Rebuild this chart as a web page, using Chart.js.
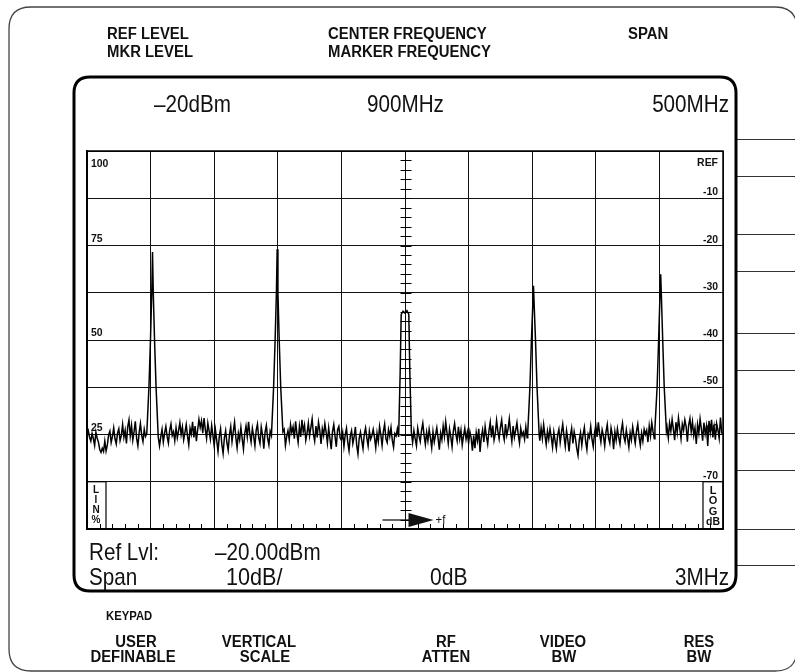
<!DOCTYPE html>
<html>
<head>
<meta charset="utf-8">
<title>Spectrum analyzer display</title>
<script src="https://cdn.jsdelivr.net/npm/chart.js"></script>
<style>
  html, body { margin: 0; padding: 0; background: #fff; }
  canvas { display: block; }
</style>
</head>
<body>
<canvas id="screen" width="795" height="672"></canvas>
<script>
// frequency axis: 650..1150 MHz, 50 MHz / div
const freqMinMHz = 650;
const freqMaxMHz = 1150;
const freqDivMHz = 50;
const freqStartMHz = 650;
const freqStepMHz = 1;

// level axis: REF (0) down to -80 dB, 10 dB / div
const dbMin = -80;
const dbMax = 0;
const dbTickValues = [0, -10, -20, -30, -40, -50, -60, -70];
const dbTickLabels = ['REF', '-10', '-20', '-30', '-40', '-50', '-60', '-70'];
const linTickValues = [100, 75, 50, 25];
const linTickLabels = ['100', '75', '50', '25'];

// noise floor, one value per MHz (650..1150)
const noiseDb = [
  -60.0, -59.2, -60.6, -61.4, -59.8, -60.9, -62.3, -59.5, -60.8, -61.6, -63.2, -63.8, -62.9, -63.6, -61.4, -63.5, -62.2, -60.1, -59.3, -61.7, -60.4, -58.6, -60.9, -62.0, -59.7,
  -58.8, -61.3, -60.2, -57.9, -60.6, -59.1, -61.9, -58.4, -56.9, -60.3, -58.1, -61.2, -59.4, -57.2, -60.8, -62.4, -59.6, -57.7, -60.2, -61.5, -58.9, -60.4, -62.1, -59.0, -60.6,
  -60.3, -59.5, -61.0, -60.2, -59.8, -61.2, -62.7, -62.4, -60.5, -58.9, -61.6, -59.7, -58.3, -60.4, -61.8, -59.1, -57.8, -60.2, -59.4, -61.3, -58.6, -60.7, -59.2, -57.5, -60.0,
  -58.4, -61.1, -59.6, -57.9, -60.3, -62.2, -58.7, -59.9, -57.3, -60.6, -58.2, -61.4, -59.0, -56.8, -58.5, -57.1, -59.7, -56.5, -58.9, -60.8, -57.6, -59.3, -61.0, -58.1, -60.2,
  -62.4, -59.1, -61.3, -63.6, -60.4, -58.8, -62.1, -64.0, -60.7, -59.2, -61.8, -63.3, -60.0, -58.3, -61.5, -59.4, -57.4, -60.6, -62.8, -59.7, -61.1, -58.5, -60.9, -63.1, -59.8,
  -58.2, -60.5, -57.3, -59.9, -61.6, -58.7, -60.3, -62.4, -59.1, -57.8, -60.7, -61.9, -58.4, -60.1, -63.0, -59.5, -58.1, -60.8, -62.2, -59.3, -60.0, -58.6, -61.4, -60.2, -59.7,
  -60.1, -59.3, -60.7, -61.5, -60.0, -58.9, -62.3, -60.4, -59.2, -61.1, -57.9, -59.6, -58.4, -60.9, -57.2, -59.8, -61.7, -58.3, -60.5, -56.9, -59.4, -58.0, -61.2, -59.7, -57.6,
  -60.3, -58.5, -56.7, -59.9, -61.4, -58.2, -60.6, -57.4, -59.1, -62.0, -58.8, -60.2, -57.7, -59.5, -61.8, -58.6, -60.9, -63.1, -59.4, -57.9, -60.4, -62.6, -59.0, -58.3, -60.7,
  -61.2, -59.6, -62.5, -60.1, -58.7, -61.6, -63.4, -60.3, -59.2, -61.9, -60.5, -58.4, -62.2, -64.1, -60.8, -59.5, -61.3, -63.0, -59.9, -58.6, -60.7, -62.4, -59.3, -61.0, -60.2,
  -58.9, -60.6, -62.8, -59.7, -61.5, -58.3, -60.1, -62.3, -59.4, -57.8, -60.9, -61.7, -59.0, -60.4, -58.5, -61.2, -62.7, -59.8, -60.3, -58.8, -61.4, -60.0, -59.3, -60.8, -60.1,
  -60.0, -59.6, -60.4, -61.0, -59.8, -60.6, -61.7, -59.2, -60.9, -62.4, -58.7, -60.3, -61.5, -59.1, -57.6, -60.2, -62.1, -59.5, -61.3, -58.9, -60.7, -62.8, -59.4, -61.6, -60.1,
  -58.6, -60.8, -63.2, -59.7, -61.1, -58.2, -60.4, -57.3, -59.6, -61.9, -58.8, -60.5, -62.6, -59.3, -57.7, -60.0, -61.4, -58.4, -60.9, -59.1, -62.2, -60.3, -58.7, -61.0, -59.5,
  -61.8, -59.4, -60.7, -63.4, -60.2, -62.9, -59.6, -61.3, -58.8, -63.7, -60.5, -59.0, -61.6, -58.3, -60.4, -62.0, -59.2, -57.4, -60.6, -58.1, -61.2, -59.8, -57.0, -59.3, -60.9,
  -58.5, -56.9, -59.7, -61.1, -57.8, -60.2, -58.9, -56.7, -59.4, -61.5, -58.2, -60.6, -59.1, -57.5, -60.0, -61.8, -58.7, -60.3, -59.5, -61.0, -58.4, -60.7, -59.9, -60.4, -59.6,
  -60.2, -59.8, -60.5, -60.1, -59.7, -60.9, -61.3, -58.6, -60.8, -57.9, -60.2, -62.1, -59.3, -61.0, -58.8, -60.6, -62.7, -59.5, -61.4, -63.0, -60.1, -58.9, -61.7, -59.6, -57.8,
  -60.4, -62.5, -59.2, -61.1, -63.6, -60.3, -58.7, -61.9, -59.4, -60.8, -62.9, -64.4, -61.2, -59.6, -62.3, -60.0, -58.5, -61.4, -63.2, -59.9, -60.6, -58.3, -61.0, -62.6, -59.7,
  -58.1, -60.5, -57.4, -59.8, -61.6, -59.0, -60.3, -62.4, -59.5, -57.9, -60.7, -61.8, -58.6, -60.1, -63.1, -59.4, -61.2, -58.8, -60.6, -62.0, -59.2, -57.6, -60.4, -61.5, -59.0,
  -60.8, -62.7, -59.6, -61.1, -58.4, -60.2, -61.9, -59.3, -57.8, -60.5, -62.3, -59.7, -61.4, -58.9, -60.0, -59.1, -61.6, -58.2, -60.3, -57.5, -59.4, -60.9, -58.6, -59.8, -60.4,
  -60.0, -59.5, -60.6, -59.9, -60.3, -59.2, -58.4, -60.7, -57.6, -59.3, -56.8, -58.9, -61.2, -57.4, -59.6, -56.5, -58.7, -60.9, -57.8, -59.1, -56.9, -58.3, -61.5, -58.0, -56.6,
  -59.4, -57.3, -60.2, -58.6, -62.0, -57.9, -59.7, -56.7, -58.8, -61.3, -57.5, -59.9, -58.2, -62.4, -57.1, -59.5, -56.9, -60.6, -58.4, -61.1, -57.7, -59.0, -60.8, -56.4, -59.6,
  -60.1
];

// the five carriers, [MHz, dB]
const peak700 = [[697, -59.8], [698.7, -50], [699.9, -40], [700.9, -30], [701.5, -21.4], [702.1, -30], [703.1, -40], [704.3, -50], [706, -60.5]];
const peak800 = [[795, -60.2], [796.7, -50], [797.9, -40], [798.9, -30], [799.5, -20.8], [800.1, -30], [801.1, -40], [802.3, -50], [804, -59.4]];
const peak900 = [[895, -60.5], [896.2, -47], [897, -34.6], [898.5, -33.9], [900, -34.3], [901.5, -33.8], [903, -34.6], [903.8, -47], [905, -59.5]];
const peak1000 = [[996.5, -59.6], [998.2, -50], [999.4, -40], [1000.4, -33], [1001, -28.5], [1001.6, -33], [1002.6, -40], [1003.8, -50], [1005.5, -60.2]];
const peak1100 = [[1096.5, -58.6], [1098.2, -50], [1099.4, -40], [1100.4, -31], [1101, -26.1], [1101.6, -31], [1102.6, -40], [1103.8, -50], [1105.5, -59.2]];

const peaks = [peak700, peak800, peak900, peak1000, peak1100];

// merge noise and carriers into one sweep
const trace = [];
noiseDb.forEach((v, i) => {
  const f = freqStartMHz + i * freqStepMHz;
  const inPeak = peaks.some(p => f >= p[0][0] && f <= p[p.length - 1][0]);
  if (!inPeak) trace.push({ x: f, y: v });
});
peaks.forEach(p => p.forEach(([x, y]) => trace.push({ x, y })));
trace.sort((a, b) => a.x - b.x);

const FONT = '"Liberation Sans", Arial, sans-serif';

// panel lettering is a condensed face, so squeeze the text horizontally
function drawText(ctx, s, x, y, size, weight, sx, align) {
  ctx.font = `${weight} ${size}px ${FONT}`;
  const w = ctx.measureText(s).width * sx;
  let left = x;
  if (align === 'center') left = x - w / 2;
  if (align === 'right') left = x - w;
  ctx.save();
  ctx.translate(left, y);
  ctx.scale(sx, 1);
  ctx.textAlign = 'left';
  ctx.textBaseline = 'alphabetic';
  ctx.fillText(s, 0, 0);
  ctx.restore();
}

function roundRect(ctx, x0, y0, x1, y1, r) {
  ctx.beginPath();
  ctx.moveTo(x0 + r, y0);
  ctx.lineTo(x1 - r, y0);
  ctx.quadraticCurveTo(x1, y0, x1, y0 + r);
  ctx.lineTo(x1, y1 - r);
  ctx.quadraticCurveTo(x1, y1, x1 - r, y1);
  ctx.lineTo(x0 + r, y1);
  ctx.quadraticCurveTo(x0, y1, x0, y1 - r);
  ctx.lineTo(x0, y0 + r);
  ctx.quadraticCurveTo(x0, y0, x0 + r, y0);
  ctx.closePath();
}

const panelPlugin = {
  id: 'panel',
  beforeDraw(chart) {
    const ctx = chart.ctx;
    ctx.save();
    ctx.fillStyle = '#fff';
    ctx.fillRect(0, 0, chart.width, chart.height);

    // instrument outline
    ctx.strokeStyle = '#444';
    ctx.lineWidth = 1.3;
    roundRect(ctx, 9, 7, 797, 671, 22);
    ctx.stroke();

    // softkey lines on the right
    ctx.strokeStyle = '#333';
    ctx.lineWidth = 1;
    [139, 176, 234, 271, 333, 370, 433, 470, 529, 565].forEach(y => {
      ctx.beginPath();
      ctx.moveTo(737, y + 0.5);
      ctx.lineTo(795, y + 0.5);
      ctx.stroke();
    });

    // screen bezel
    ctx.strokeStyle = '#000';
    ctx.lineWidth = 3;
    roundRect(ctx, 74, 77, 736, 591, 16);
    ctx.stroke();

    ctx.fillStyle = '#111';
    // legends above the screen
    drawText(ctx, 'REF LEVEL', 107, 39, 16, 'bold', 0.93);
    drawText(ctx, 'MKR LEVEL', 107, 57, 16, 'bold', 0.93);
    drawText(ctx, 'CENTER FREQUENCY', 328, 39, 16, 'bold', 0.93);
    drawText(ctx, 'MARKER FREQUENCY', 328, 57, 16, 'bold', 0.93);
    drawText(ctx, 'SPAN', 628, 39, 16, 'bold', 0.93);

    // readouts on the screen
    drawText(ctx, '\u201320dBm', 154, 112, 24, 'normal', 0.86);
    drawText(ctx, '900MHz', 367, 112, 24, 'normal', 0.86);
    drawText(ctx, '500MHz', 729, 112, 24, 'normal', 0.86, 'right');
    drawText(ctx, 'Ref Lvl:', 89, 560, 24, 'normal', 0.86);
    drawText(ctx, '\u201320.00dBm', 215, 560, 24, 'normal', 0.86);
    drawText(ctx, 'Span', 89, 585, 24, 'normal', 0.86);
    drawText(ctx, '10dB/', 226, 585, 24, 'normal', 0.9);
    drawText(ctx, '0dB', 430, 585, 24, 'normal', 0.88);
    drawText(ctx, '3MHz', 729, 585, 24, 'normal', 0.86, 'right');

    // keys below the screen
    drawText(ctx, 'KEYPAD', 106, 620, 12, 'bold', 0.94);
    drawText(ctx, 'USER', 136, 647, 16, 'bold', 0.93, 'center');
    drawText(ctx, 'DEFINABLE', 133, 662, 16, 'bold', 0.93, 'center');
    drawText(ctx, 'VERTICAL', 259, 647, 16, 'bold', 0.93, 'center');
    drawText(ctx, 'SCALE', 265, 662, 16, 'bold', 0.93, 'center');
    drawText(ctx, 'RF', 446, 647, 16, 'bold', 0.93, 'center');
    drawText(ctx, 'ATTEN', 446, 662, 16, 'bold', 0.93, 'center');
    drawText(ctx, 'VIDEO', 563, 647, 16, 'bold', 0.93, 'center');
    drawText(ctx, 'BW', 564, 662, 16, 'bold', 0.93, 'center');
    drawText(ctx, 'RES', 699, 647, 16, 'bold', 0.93, 'center');
    drawText(ctx, 'BW', 699, 662, 16, 'bold', 0.93, 'center');
    ctx.restore();
  },
  beforeDatasetsDraw(chart) {
    const ctx = chart.ctx;
    const a = chart.chartArea;
    const xs = chart.scales.x;
    const ys = chart.scales.y;
    const yl = chart.scales.yLin;
    ctx.save();
    ctx.strokeStyle = '#000';

    // frame of the graticule
    ctx.lineWidth = 1.5;
    ctx.strokeRect(a.left, a.top, a.right - a.left, a.bottom - a.top);

    // minor ticks along the bottom edge
    ctx.lineWidth = 1;
    for (let f = freqMinMHz + 10; f < freqMaxMHz; f += 10) {
      if ((f - freqMinMHz) % freqDivMHz === 0) continue;
      const px = Math.round(xs.getPixelForValue(f)) + 0.5;
      ctx.beginPath();
      ctx.moveTo(px, a.bottom);
      ctx.lineTo(px, a.bottom - 5);
      ctx.stroke();
    }
    // minor ticks on the centre line
    const cx = Math.round(xs.getPixelForValue((freqMinMHz + freqMaxMHz) / 2)) + 0.5;
    for (let d = dbMax - 2; d > dbMin; d -= 2) {
      const py = Math.round(ys.getPixelForValue(d)) + 0.5;
      ctx.beginPath();
      ctx.moveTo(cx - 5, py);
      ctx.lineTo(cx + 6, py);
      ctx.stroke();
    }

    // level labels
    ctx.fillStyle = '#111';
    linTickValues.forEach((v, i) => {
      const py = yl.getPixelForValue(v);
      const by = i === 0 ? py + 16 : py - 4;
      drawText(ctx, linTickLabels[i], a.left + 4, by, 11, 'bold', 0.95);
    });
    dbTickValues.forEach((v, i) => {
      const py = ys.getPixelForValue(v);
      const by = i === 0 ? py + 15 : py - 3;
      drawText(ctx, dbTickLabels[i], a.right - 5, by, 11, 'bold', 0.95, 'right');
    });

    // LIN % and LOG dB boxes
    const boxTop = ys.getPixelForValue(-70);
    ctx.lineWidth = 1.2;
    ctx.strokeRect(a.left, boxTop, 19, a.bottom - boxTop);
    ctx.strokeRect(a.right - 20, boxTop, 20, a.bottom - boxTop);
    ['L', 'I', 'N', '%'].forEach((c, i) => drawText(ctx, c, a.left + 9, boxTop + 11 + i * 10, 10, 'bold', 1, 'center'));
    ['L', 'O', 'G'].forEach((c, i) => drawText(ctx, c, a.right - 10, boxTop + 12 + i * 10.5, 11, 'bold', 1, 'center'));
    drawText(ctx, 'dB', a.right - 10, boxTop + 43, 11, 'bold', 0.95, 'center');

    // +f marker
    const my = a.bottom - 9;
    ctx.lineWidth = 1.2;
    ctx.beginPath();
    ctx.moveTo(cx - 23, my);
    ctx.lineTo(cx + 4, my);
    ctx.stroke();
    ctx.beginPath();
    ctx.moveTo(cx + 3, my - 7);
    ctx.lineTo(cx + 28, my);
    ctx.lineTo(cx + 3, my + 7);
    ctx.closePath();
    ctx.fill();
    drawText(ctx, '+f', cx + 30, my + 4, 12, 'normal', 0.95);
    ctx.restore();
  }
};

new Chart(document.getElementById('screen'), {
  type: 'line',
  data: {
    datasets: [{
      data: trace,
      borderColor: '#000',
      borderWidth: 1.5,
      pointRadius: 0,
      tension: 0,
      fill: false
    }]
  },
  options: {
    responsive: false,
    animation: false,
    devicePixelRatio: 1,
    layout: { padding: { left: 87, right: 72, top: 151, bottom: 143 } },
    plugins: { legend: { display: false }, tooltip: { enabled: false } },
    scales: {
      x: {
        type: 'linear',
        min: freqMinMHz,
        max: freqMaxMHz,
        ticks: { display: false, stepSize: freqDivMHz },
        grid: { color: '#111', lineWidth: 1, drawTicks: false },
        border: { display: true, color: '#000', width: 1.5 }
      },
      y: {
        min: dbMin,
        max: dbMax,
        ticks: { display: false, stepSize: 10 },
        grid: { color: '#111', lineWidth: 1, drawTicks: false },
        border: { display: true, color: '#000', width: 1.5 }
      },
      yLin: {
        display: false,
        min: 0,
        max: 100
      }
    }
  },
  plugins: [panelPlugin]
});
</script>
</body>
</html>
